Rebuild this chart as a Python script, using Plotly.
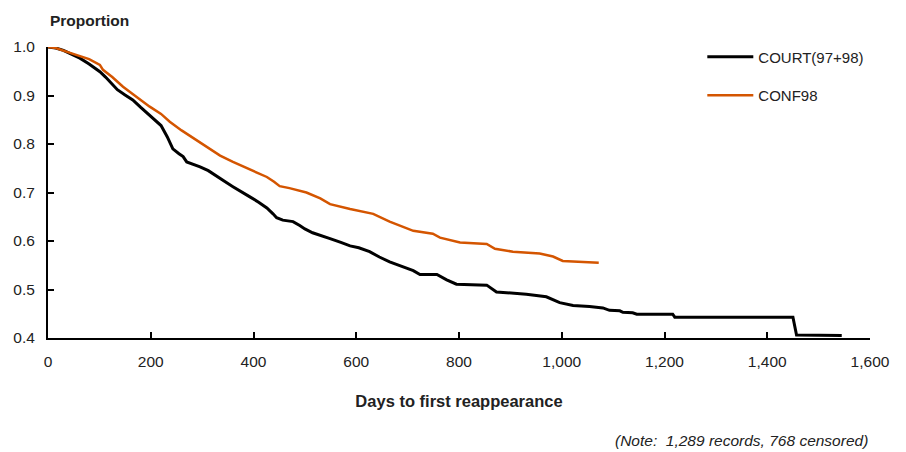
import plotly.graph_objects as go

court_days = [0, 15, 30, 45, 62, 80, 101, 112, 121, 135, 150, 165, 180, 204, 220, 232, 243, 255, 263, 270, 283, 296, 312, 328, 345, 360, 377, 393, 410, 426, 438, 445, 457, 477, 490, 500, 515, 530, 549, 570, 588, 605, 626, 645, 665, 690, 711, 724, 757, 776, 795, 854, 873, 931, 970, 996, 1022, 1054, 1080, 1093, 1113, 1119, 1138, 1146, 1216, 1220, 1450, 1457, 1545]
court_vals = [1.0, 0.998, 0.993, 0.986, 0.977, 0.965, 0.949, 0.938, 0.928, 0.912, 0.901, 0.891, 0.876, 0.854, 0.838, 0.815, 0.790, 0.780, 0.774, 0.763, 0.758, 0.753, 0.745, 0.733, 0.722, 0.712, 0.702, 0.691, 0.680, 0.668, 0.656, 0.648, 0.643, 0.640, 0.632, 0.625, 0.617, 0.612, 0.605, 0.597, 0.590, 0.586, 0.578, 0.567, 0.557, 0.547, 0.539, 0.531, 0.531, 0.520, 0.511, 0.509, 0.495, 0.490, 0.485, 0.473, 0.467, 0.465, 0.462, 0.457, 0.456, 0.453, 0.452, 0.449, 0.449, 0.443, 0.443, 0.406, 0.405]

conf_days = [0, 15, 37, 60, 80, 101, 107, 125, 146, 170, 198, 220, 237, 260, 285, 309, 335, 360, 393, 426, 440, 451, 470, 503, 530, 549, 588, 633, 665, 690, 711, 749, 763, 802, 854, 870, 905, 957, 983, 1002, 1072]
conf_vals = [1.0, 0.998, 0.990, 0.982, 0.975, 0.963, 0.953, 0.938, 0.918, 0.899, 0.877, 0.862, 0.846, 0.828, 0.811, 0.794, 0.776, 0.763, 0.747, 0.732, 0.722, 0.713, 0.709, 0.700, 0.688, 0.676, 0.666, 0.656, 0.640, 0.630, 0.621, 0.615, 0.607, 0.597, 0.594, 0.584, 0.578, 0.574, 0.568, 0.559, 0.555]

x_ticks = [0, 200, 400, 600, 800, 1000, 1200, 1400, 1600]
y_ticks = [0.4, 0.5, 0.6, 0.7, 0.8, 0.9, 1.0]

FONT = "Liberation Sans, Arial, sans-serif"

fig = go.Figure()
fig.add_trace(go.Scatter(x=court_days, y=court_vals, mode="lines", name="COURT(97+98)",
                         line=dict(color="#000000", width=3), legendgroup="a"))
fig.add_trace(go.Scatter(x=conf_days, y=conf_vals, mode="lines", name="CONF98",
                         line=dict(color="#D45500", width=2.5), legendgroup="b"))

fig.update_layout(
    width=906, height=452,
    margin=dict(l=48, r=36, t=47, b=114),
    paper_bgcolor="white", plot_bgcolor="white",
    font=dict(family=FONT, size=16, color="#222222"),
    showlegend=True,
    legend=dict(x=0.796, y=1.022, xanchor="left", yanchor="top", traceorder="grouped",
                tracegroupgap=16, font=dict(size=15, family=FONT), bgcolor="rgba(0,0,0,0)",
                itemwidth=46),
    xaxis=dict(range=[0, 1600], tickvals=x_ticks, tickformat=",", showgrid=False, zeroline=False,
               showline=True, linecolor="black", linewidth=2, ticks="inside", ticklen=6,
               tickwidth=2, tickcolor="black", ticklabelstandoff=8, automargin=False,
               tickfont=dict(size=15.5),
               title=dict(text="<b>Days to first reappearance</b>", font=dict(size=16.5), standoff=27)),
    yaxis=dict(range=[0.4, 1.0], tickvals=y_ticks, tickformat=".1f", showgrid=False, zeroline=False,
               showline=True, linecolor="black", linewidth=2, ticks="inside", ticklen=6,
               tickwidth=2, tickcolor="black", ticklabelstandoff=8, automargin=False,
               tickfont=dict(size=15.5)),
    annotations=[
        dict(text="<b>Proportion</b>", xref="paper", yref="paper", x=0.0, y=1.0, yshift=27,
             xanchor="left", yanchor="middle", showarrow=False, font=dict(size=15.5)),
        dict(text="<i>(Note:  1,289 records, 768 censored)</i>", xref="paper", yref="paper",
             x=1.0, y=0, yshift=-102, xanchor="right", yanchor="middle", showarrow=False,
             font=dict(size=15.5)),
    ],
)

fig.write_html("out.html", config={"displayModeBar": False},
               post_script="document.body.style.margin='0';")
